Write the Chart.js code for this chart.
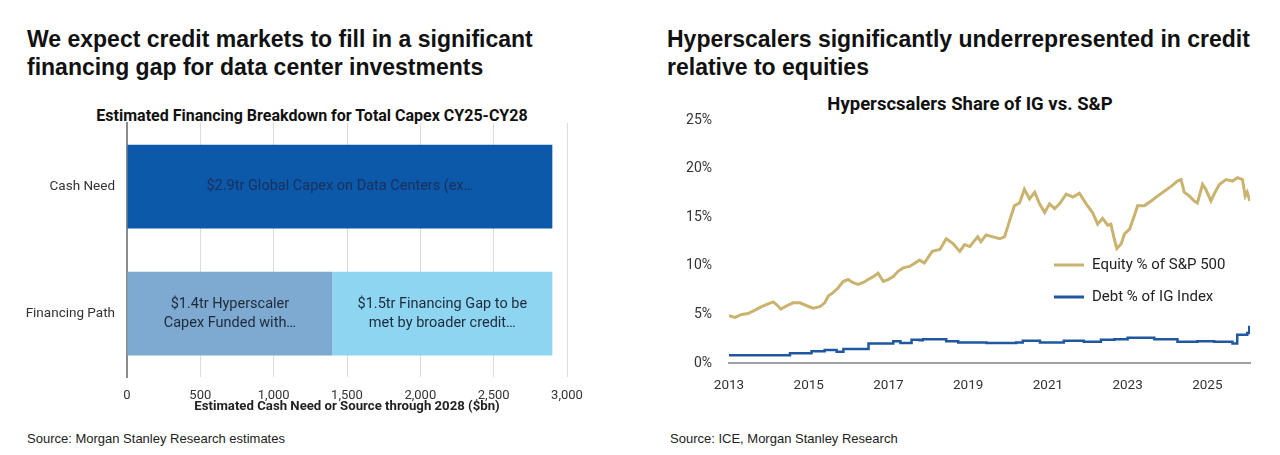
<!DOCTYPE html>
<html>
<head>
<meta charset="utf-8">
<script src="https://cdn.jsdelivr.net/npm/chart.js@4.4.1/dist/chart.umd.min.js"></script>
<style>
  body { margin:0; width:1280px; height:455px; background:#fff; position:relative; overflow:hidden; font-family:'Liberation Sans', Arial, sans-serif; }
  .head { position:absolute; top:25px; font-weight:bold; font-size:23px; line-height:28px; color:#111; white-space:nowrap; }
  .ctitle { position:absolute; font-family:Roboto, sans-serif; font-weight:bold; color:#111; white-space:nowrap; text-align:center; }
  .src { position:absolute; top:431px; font-size:13px; color:#222; }
  canvas { position:absolute; }
</style>
</head>
<body>
<div class="head" style="left:27px">We expect credit markets to fill in a significant<br>financing gap for data center investments</div>
<div class="head" style="left:667px">Hyperscalers significantly underrepresented in credit<br>relative to equities</div>
<div class="ctitle" style="left:0;width:624px;top:106px;font-size:16px;line-height:20px">Estimated Financing Breakdown for Total Capex CY25-CY28</div>
<div class="ctitle" style="left:770px;width:400px;top:93px;font-size:18.5px;line-height:22px">Hyperscsalers Share of IG vs. S&amp;P</div>
<canvas id="capex" width="620" height="315" style="left:0;top:103px"></canvas>
<canvas id="share" width="640" height="310" style="left:640px;top:95px"></canvas>
<div class="src" style="left:27px">Source: Morgan Stanley Research estimates</div>
<div class="src" style="left:670px">Source: ICE, Morgan Stanley Research</div>
<script>
// left chart: financing breakdown ($bn)
const barCategories = ['Cash Need', 'Financing Path'];
const globalCapex = [2900, null];
const hyperscalerFunded = [null, 1400];
const financingGap = [null, 1500];
const barTexts = [
  ['$2.9tr Global Capex on Data Centers (ex…'],
  ['$1.4tr Hyperscaler', 'Capex Funded with…'],
  ['$1.5tr Financing Gap to be', 'met by broader credit…']
];

// right chart: hyperscaler share (%), x in decimal years
const equityYears = [2013.00,2013.15,2013.32,2013.48,2013.65,2013.82,2013.98,2014.11,2014.20,2014.30,2014.45,2014.61,2014.78,2014.95,
  2015.11,2015.28,2015.40,2015.49,2015.61,2015.74,2015.86,2015.99,2016.10,2016.24,2016.37,2016.49,2016.62,2016.74,2016.87,2016.99,
  2017.12,2017.24,2017.37,2017.53,2017.78,2017.90,2018.10,2018.29,2018.45,2018.62,2018.79,2018.91,2019.04,2019.24,2019.32,2019.45,
  2019.62,2019.79,2019.91,2019.99,2020.08,2020.16,2020.29,2020.41,2020.54,2020.67,2020.79,2020.92,2021.04,2021.17,2021.29,2021.46,
  2021.63,2021.79,2021.96,2022.12,2022.25,2022.37,2022.50,2022.58,2022.67,2022.73,2022.84,2022.92,2023.05,2023.17,2023.25,2023.42,
  2023.59,2023.75,2023.92,2024.09,2024.25,2024.34,2024.42,2024.55,2024.67,2024.75,2024.88,2024.96,2025.09,2025.17,2025.30,2025.47,
  2025.63,2025.76,2025.88,2025.95,2026.00,2026.07];
const equityPct = [4.87,4.70,5.00,5.10,5.45,5.80,6.10,6.30,6.00,5.55,5.90,6.20,6.20,5.90,
  5.65,5.80,6.20,6.90,7.25,7.75,8.40,8.60,8.30,8.10,8.30,8.60,8.90,9.25,8.40,8.60,
  8.90,9.45,9.80,9.95,10.6,10.3,11.5,11.7,12.8,12.3,11.5,12.2,12.0,13.0,12.5,13.2,
  13.0,12.8,13.0,14.0,15.2,16.2,16.5,17.9,16.9,17.6,16.4,15.5,16.4,15.9,16.4,17.4,
  17.1,17.5,16.4,15.5,14.3,14.9,14.2,14.3,12.7,11.8,12.3,13.3,13.8,15.2,16.2,16.2,
  16.7,17.2,17.7,18.2,18.75,18.9,17.6,17.2,16.7,16.5,18.4,17.9,16.7,17.4,18.4,18.9,
  18.75,19.1,18.9,17.2,17.6,16.7];
const debtYears = [2013.00,2014.53,2015.07,2015.40,2015.70,2015.87,2016.50,2017.12,2017.30,2017.58,2017.78,2017.86,2018.45,2018.75,
  2019.46,2020.20,2020.37,2020.80,2021.40,2021.90,2022.33,2022.67,2023.00,2023.67,2024.25,2024.75,2025.17,2025.63,2025.75,2026.00,2026.05,2026.07];
const debtPct = [0.80,1.00,1.20,1.35,1.15,1.45,2.00,2.25,2.05,2.40,2.35,2.45,2.25,2.10,
  2.05,2.10,2.30,2.10,2.30,2.20,2.40,2.45,2.60,2.45,2.20,2.25,2.20,2.00,2.90,3.10,3.70,3.75];
const yearTicks = [2013, 2015, 2017, 2019, 2021, 2023, 2025];

Chart.defaults.font.family = 'Roboto, sans-serif';
Chart.defaults.color = '#333';

// text written in the middle of each bar segment
const barText = {
  id: 'barText',
  afterDatasetsDraw(chart) {
    const ctx = chart.ctx;
    ctx.save();
    ctx.font = '14.5px Roboto';
    ctx.textAlign = 'center';
    ctx.textBaseline = 'middle';
    chart.data.datasets.forEach((ds, i) => {
      chart.getDatasetMeta(i).data.forEach((el, j) => {
        if (ds.data[j] == null) return;
        const lines = barTexts[i];
        const cx = (el.x + el.base) / 2;
        ctx.fillStyle = ds.textColor;
        lines.forEach((t, k) => ctx.fillText(t, cx, el.y + (k - (lines.length - 1) / 2) * 19));
      });
    });
    ctx.restore();
  }
};

new Chart(document.getElementById('capex'), {
  type: 'bar',
  data: {
    labels: barCategories,
    datasets: [
      { label: 'Global Capex', data: globalCapex, backgroundColor: '#0B59A8', textColor: '#1C2F5C' },
      { label: 'Hyperscaler Capex', data: hyperscalerFunded, backgroundColor: '#7EA9D0', textColor: '#1E2A3A' },
      { label: 'Financing Gap', data: financingGap, backgroundColor: '#8ED5F2', textColor: '#1E2A3A' }
    ]
  },
  options: {
    indexAxis: 'y', responsive: false, animation: false,
    layout: { padding: { top: 4, right: 53 } },
    datasets: { bar: { barPercentage: 0.66, categoryPercentage: 1 } },
    plugins: { legend: { display: false }, tooltip: { enabled: false } },
    scales: {
      x: {
        stacked: true, min: 0, max: 3000,
        ticks: { stepSize: 500, padding: 11, font: { size: 13 }, color: '#333' },
        grid: { color: '#dcdcdc', drawTicks: false },
        border: { display: false },
        title: { display: true, text: 'Estimated Cash Need or Source through 2028 ($bn)', font: { size: 13.2, weight: 'bold' }, color: '#222', padding: { top: 0, bottom: 3 } },
        afterFit(s) { s.height = 41; }
      },
      y: {
        stacked: true,
        ticks: { padding: 12, font: { size: 13.5 }, color: '#333' },
        grid: { display: false, drawTicks: false },
        border: { color: '#8a8a8a', width: 2 },
        afterFit(s) { s.width = 127; }
      }
    }
  },
  plugins: [barText]
});

// legend drawn inside the plot, lower right
const legendInside = {
  id: 'legendInside',
  afterDraw(chart) {
    const { ctx, chartArea: a } = chart;
    ctx.save();
    ctx.font = '15px Roboto';
    ctx.textBaseline = 'middle';
    chart.data.datasets.forEach((ds, i) => {
      const y = a.bottom - 98 + i * 32;
      ctx.strokeStyle = ds.borderColor;
      ctx.lineWidth = 3;
      ctx.beginPath(); ctx.moveTo(a.right - 196, y); ctx.lineTo(a.right - 166, y); ctx.stroke();
      ctx.fillStyle = '#222';
      ctx.fillText(ds.label, a.right - 158, y);
    });
    ctx.restore();
  }
};

new Chart(document.getElementById('share'), {
  type: 'line',
  data: {
    datasets: [
      { label: 'Equity % of S&P 500', data: equityYears.map((x, i) => ({ x, y: equityPct[i] })),
        borderColor: '#C9B36E', borderWidth: 3, pointRadius: 0, tension: 0 },
      { label: 'Debt % of IG Index', data: debtYears.map((x, i) => ({ x, y: debtPct[i] })),
        borderColor: '#1F58A0', borderWidth: 2.5, pointRadius: 0, stepped: true }
    ]
  },
  options: {
    responsive: false, animation: false,
    layout: { padding: { top: 22, right: 30 } },
    plugins: { legend: { display: false }, tooltip: { enabled: false } },
    scales: {
      x: {
        type: 'linear', min: 2013, max: 2026.07,
        afterBuildTicks(s) { s.ticks = yearTicks.map(v => ({ value: v })); },
        ticks: { autoSkip: false, maxRotation: 0, padding: 15, font: { size: 13.5 }, color: '#333', callback: v => String(v) },
        grid: { display: false, drawTicks: false },
        border: { color: '#a0a0a0', width: 2 },
        afterFit(s) { s.height = 42; }
      },
      y: {
        min: 0, max: 25,
        ticks: { stepSize: 5, padding: 17, font: { size: 14 }, color: '#333', callback: v => v + '%' },
        grid: { display: false, drawTicks: false },
        border: { display: false },
        afterFit(s) { s.width = 89; }
      }
    }
  },
  plugins: [legendInside]
});
</script>
</body>
</html>
